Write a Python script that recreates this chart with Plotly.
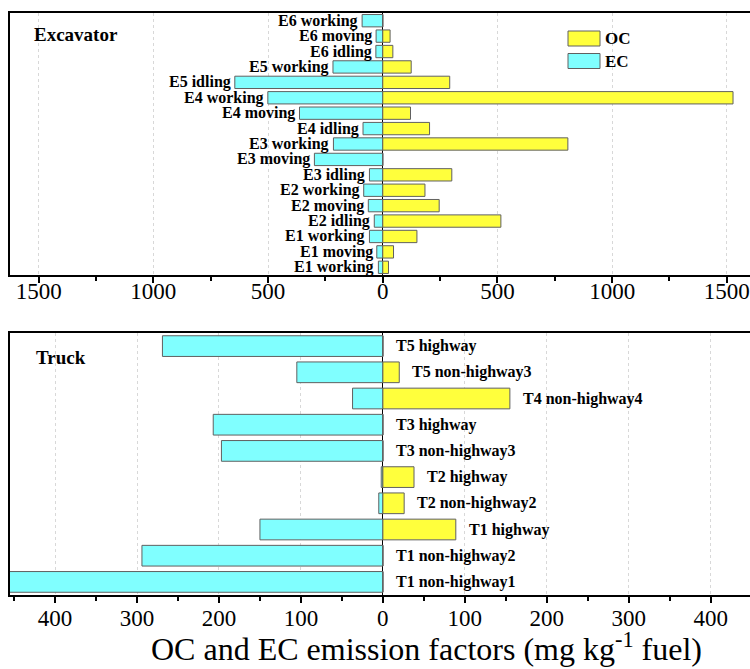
import plotly.graph_objects as go

# Excavator operating modes (top to bottom) with EC and OC emission factors (mg/kg fuel)
exc_labels = ["E6 working", "E6 moving", "E6 idling", "E5 working", "E5 idling",
              "E4 working", "E4 moving", "E4 idling", "E3 working", "E3 moving",
              "E3 idling", "E2 working", "E2 moving", "E2 idling", "E1 working",
              "E1 moving", "E1 working"]
exc_ec = [90, 29, 30, 217, 645, 501, 363, 86, 215, 298, 58, 83, 63, 37, 58, 26, 19]
exc_oc = [0, 32, 44, 124, 292, 1527, 121, 204, 807, 0, 301, 184, 246, 515, 149, 47, 25]

# Truck driving conditions (top to bottom)
trk_labels = ["T5 highway", "T5 non-highway3", "T4 non-highway4", "T3 highway",
              "T3 non-highway3", "T2 highway", "T2 non-highway2", "T1 highway",
              "T1 non-highway2", "T1 non-highway1"]
trk_ec = [269, 105, 37, 207, 197, 2, 5, 150, 294, 480]
trk_oc = [0, 20, 155, 0, 0, 38, 26, 89, 0, 0]

exc_ticks = [-1500, -1000, -500, 0, 500, 1000, 1500]
trk_ticks = [-400, -300, -200, -100, 0, 100, 200, 300, 400]

OC_COLOR = "#FFFF3C"
EC_COLOR = "#80FFFF"
EDGE = "#606060"
SERIF = "Liberation Serif, Times New Roman, serif"

W, H = 750, 669
ML = 10
PW = W - ML


def py(px):
    """Convert a pixel row (from top of figure) to paper y."""
    return 1 - px / H


def pxx(px):
    """Convert a pixel column to paper x."""
    return (px - ML) / PW


fig = go.Figure()

exc_y = list(range(len(exc_labels)))
trk_y = list(range(len(trk_labels)))

fig.add_trace(go.Bar(y=exc_y, x=[-v for v in exc_ec], orientation="h", width=0.8,
                     marker=dict(color=EC_COLOR, line=dict(color=EDGE, width=1)),
                     name="EC", xaxis="x", yaxis="y", showlegend=False))
fig.add_trace(go.Bar(y=exc_y, x=exc_oc, orientation="h", width=0.8,
                     marker=dict(color=OC_COLOR, line=dict(color=EDGE, width=1)),
                     name="OC", xaxis="x", yaxis="y", showlegend=False))
fig.add_trace(go.Bar(y=trk_y, x=[-v for v in trk_ec], orientation="h", width=0.79,
                     marker=dict(color=EC_COLOR, line=dict(color=EDGE, width=1)),
                     name="EC", xaxis="x2", yaxis="y2", showlegend=False))
fig.add_trace(go.Bar(y=trk_y, x=trk_oc, orientation="h", width=0.79,
                     marker=dict(color=OC_COLOR, line=dict(color=EDGE, width=1)),
                     name="OC", xaxis="x2", yaxis="y2", showlegend=False))

annotations = []
# Excavator mode labels sit just left of each EC bar
for i, lab in enumerate(exc_labels):
    annotations.append(dict(x=-exc_ec[i], y=i, xref="x", yref="y", text=lab,
                            showarrow=False, xanchor="right", yanchor="middle",
                            xshift=-2, font=dict(family=SERIF, size=16, color="black",
                                                 weight="bold")))
# Truck condition labels sit right of the OC bar (or the zero line)
for i, lab in enumerate(trk_labels):
    annotations.append(dict(x=max(trk_oc[i], 0), y=i, xref="x2", yref="y2", text=lab,
                            showarrow=False, xanchor="left", yanchor="middle",
                            xshift=11, font=dict(family=SERIF, size=16, color="black",
                                                 weight="bold")))

annotations.append(dict(x=pxx(32), y=py(35), xref="paper", yref="paper", text="Excavator",
                        showarrow=False, xanchor="left", yanchor="middle",
                        font=dict(family=SERIF, size=19, color="black", weight="bold")))
annotations.append(dict(x=pxx(34), y=py(357), xref="paper", yref="paper", text="Truck",
                        showarrow=False, xanchor="left", yanchor="middle",
                        font=dict(family=SERIF, size=19, color="black", weight="bold")))

# Legend entries
shapes = []
for (label, color, top) in [("OC", OC_COLOR, 31), ("EC", EC_COLOR, 53.5)]:
    shapes.append(dict(type="rect", xref="paper", yref="paper",
                       x0=pxx(568), x1=pxx(600), y0=py(top + 15), y1=py(top),
                       fillcolor=color, line=dict(color=EDGE, width=1)))
    annotations.append(dict(x=pxx(603), y=py(top + 7.5), xref="paper", yref="paper",
                            text=label, showarrow=False, xanchor="left", yanchor="middle",
                            font=dict(family=SERIF, size=17, color="black", weight="bold")))

# Shared x-axis title
annotations.append(dict(x=pxx(426), y=py(647), xref="paper", yref="paper",
                        text="OC and EC emission factors (mg kg<sup>-1</sup> fuel)",
                        showarrow=False, xanchor="center", yanchor="middle",
                        font=dict(family=SERIF, size=32, color="black")))


def xaxis_style(tickvals, minor_dtick, rng, anchor, standoff):
    return dict(
        range=rng, anchor=anchor,
        tickmode="array", tickvals=tickvals, ticktext=[str(abs(v)) for v in tickvals],
        ticks="outside", ticklen=6, tickwidth=1.5, tickcolor="black",
        ticklabelstandoff=standoff, ticklabeloverflow="allow",
        minor=dict(tickmode="linear", tick0=0, dtick=minor_dtick, ticks="outside",
                   ticklen=4, tickwidth=1.5, tickcolor="black", showgrid=False),
        showline=True, linecolor="black", linewidth=2, mirror=True,
        showgrid=True, gridcolor="#d8d8d8", griddash="dot", gridwidth=1,
        zeroline=True, zerolinecolor="black", zerolinewidth=1,
        tickfont=dict(family=SERIF, size=23, color="black"),
        fixedrange=True,
    )


def yaxis_style(n, domain, anchor):
    return dict(
        domain=domain, anchor=anchor, range=[n - 0.5, -0.5],
        showticklabels=False, ticks="", showgrid=False, zeroline=False,
        showline=True, linecolor="black", linewidth=2, mirror=False,
    )


fig.update_layout(
    width=W, height=H,
    margin=dict(l=ML, r=0, t=0, b=0),
    paper_bgcolor="white", plot_bgcolor="white",
    barmode="overlay",
    showlegend=False,
    xaxis=xaxis_style(exc_ticks, 250, [-1625, 1601], "y", -12),
    yaxis=yaxis_style(len(exc_labels), [py(275), py(13)], "x"),
    xaxis2=xaxis_style(trk_ticks, 50, [-455, 448], "y2", -5),
    yaxis2=yaxis_style(len(trk_labels), [py(595), py(333)], "x2"),
    annotations=annotations,
    shapes=shapes,
)

fig.write_html("out.html")
